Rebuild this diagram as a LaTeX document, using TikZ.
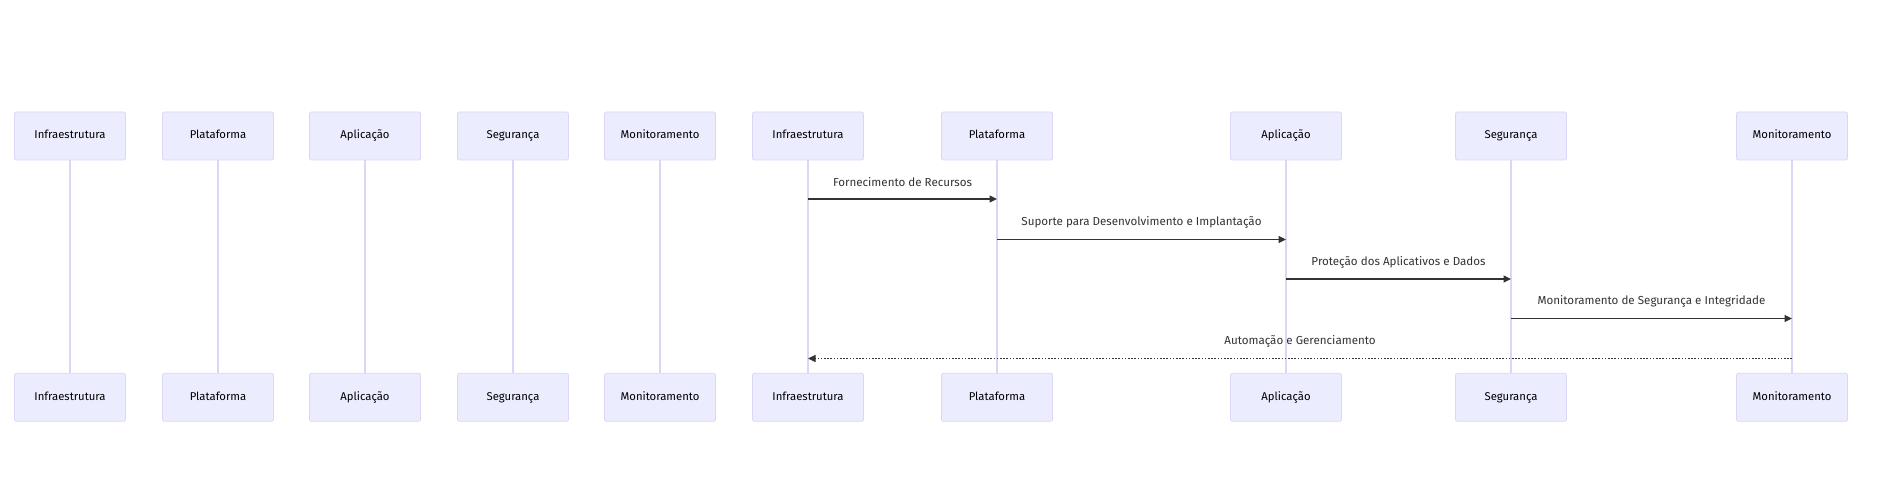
\documentclass[tikz,border=0pt]{standalone}
\usepackage{fontspec}
\setmainfont{Fira Sans}
\usetikzlibrary{arrows.meta}
\definecolor{actfill}{HTML}{ECECFF}
\definecolor{actdraw}{HTML}{DDD6F6}
\definecolor{lifecol}{HTML}{DCD5F6}
\definecolor{msgcol}{HTML}{333333}
\tikzset{
  actor/.style={draw=actdraw, fill=actfill, line width=0.8pt, rounded corners=2pt,
    minimum width=111pt, minimum height=48pt, inner sep=0pt, text height=8.2pt, text depth=2.6pt,
    font=\fontsize{11.3}{13}\selectfont, text=black},
  life/.style={draw=lifecol, line width=1.4pt},
  msg/.style={draw=msgcol, line width=1.1pt, -{Triangle[length=7.5pt,width=7pt]}},
  dmsg/.style={draw=msgcol, line width=1pt, dash pattern=on 1.6pt off 1.6pt, -{Triangle[length=7.5pt,width=7pt,line width=1pt]}},
  lbl/.style={font=\fontsize{11.6}{13}\selectfont, text=msgcol, inner sep=0pt}
}
\begin{document}
\begin{tikzpicture}[x=1pt,y=-1pt]
\fill[white] (0,0) rectangle (1877,486);
\useasboundingbox (0,0) rectangle (1877,486);
\foreach \n/\x/\t in {a1/70/Infraestrutura, a2/218/Plataforma, a3/365/Aplicação, a4/513/Segurança, a5/660/Monitoramento,
  b1/808/Infraestrutura, b2/997/Plataforma, b3/1286/Aplicação, b4/1511/Segurança, b5/1792/Monitoramento}{
  \node[actor] (\n t) at (\x,136) {\t};
  \node[actor] (\n b) at (\x,397.3) {\t};
  \draw[life] (\n t.south) -- (\n b.north);
}
\coordinate (m1s) at (808,199);
\coordinate (m1e) at (997,199);
\coordinate (m2s) at (997,239.5);
\coordinate (m2e) at (1286,239.5);
\coordinate (m3s) at (1286,279);
\coordinate (m3e) at (1511,279);
\coordinate (m4s) at (1511,318.5);
\coordinate (m4e) at (1792,318.5);
\coordinate (m5s) at (1792,358.5);
\coordinate (m5e) at (808,358.5);
\draw[msg] (m1s) -- (m1e) node[lbl, midway, yshift=17pt] (l1) {Fornecimento de Recursos};
\draw[msg] (m2s) -- (m2e) node[lbl, midway, yshift=17pt] (l2) {Suporte para Desenvolvimento e Implantação};
\draw[msg] (m3s) -- (m3e) node[lbl, midway, yshift=17pt] (l3) {Proteção dos Aplicativos e Dados};
\draw[msg] (m4s) -- (m4e) node[lbl, midway, yshift=17pt] (l4) {Monitoramento de Segurança e Integridade};
\draw[dmsg] (m5s) -- (m5e) node[lbl, midway, yshift=17pt] (l5) {Automação e Gerenciamento};
\end{tikzpicture}
\end{document}
